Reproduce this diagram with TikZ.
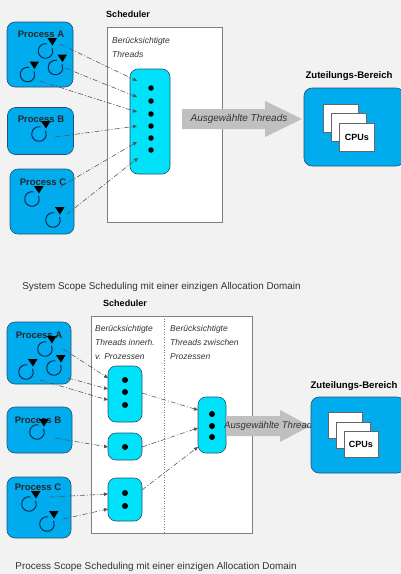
\documentclass[tikz,border=0pt]{standalone}
\usepackage{fontspec}
\setmainfont{Liberation Sans}
\usetikzlibrary{arrows.meta}
\definecolor{bg}{RGB}{242,242,242}
\definecolor{procblue}{RGB}{0,172,238}
\definecolor{qcyan}{RGB}{0,226,250}
\definecolor{edgeblue}{RGB}{40,80,110}
\definecolor{arrgray}{RGB}{192,192,192}
\definecolor{connc}{RGB}{80,80,80}
\definecolor{thrc}{RGB}{20,40,80}
\begin{document}
\begin{tikzpicture}[x=1pt,y=-1pt,
  procbox/.style={draw=edgeblue, line width=0.6pt, fill=procblue, rounded corners=8pt, inner sep=0pt},
  qbox/.style={draw=edgeblue, line width=0.6pt, fill=qcyan, rounded corners=8pt, inner sep=0pt},
  schedbox/.style={draw=gray, line width=0.6pt, fill=white, inner sep=0pt},
  cpubox/.style={draw=gray!80!black, line width=0.5pt, fill=white, inner sep=0pt, minimum width=35pt, minimum height=28pt, font=\bfseries\fontsize{9}{10}\selectfont},
  btitle/.style={font=\bfseries\fontsize{9}{10}\selectfont, inner sep=0pt},
  ztitle/.style={font=\bfseries\fontsize{9.6}{11}\selectfont, inner sep=0pt},
  ptitle/.style={font=\bfseries\fontsize{9.5}{11}\selectfont, text=black!85, inner sep=0pt},
  itext/.style={font=\itshape\fontsize{8.5}{14}\selectfont, align=left, anchor=north west, inner sep=0pt, text=black!80},
  seltext/.style={font=\itshape\fontsize{10}{12}\selectfont, text=black!80, inner sep=0pt},
  conn/.style={connc, line width=0.55pt, dash pattern=on 5pt off 2pt on 1pt off 2pt, -{Triangle[length=4pt,width=3.5pt]}},
  tdot/.style={circle, fill=black, inner sep=0pt, minimum size=5.5pt},
  caption/.style={font=\fontsize{9.9}{11}\selectfont, text=black!80, inner sep=0pt},
  divider/.style={gray, line width=0.6pt, dotted},
  thr/.pic={\draw[thrc, line width=1pt] (-80:7.3) arc[start angle=-80, end angle=-385, radius=7.3];
            \fill[black] (2,-13) -- (11.5,-13) -- (7,-5.5) -- cycle;},
]
\useasboundingbox (0,0) rectangle (401,574);
\clip (0,0) rectangle (401,574);
\fill[bg] (0,0) rectangle (401,574);

% ================= TOP =================
\node[btitle] (sched1) at (128,14) {Scheduler};
\node[schedbox, minimum width=115pt, minimum height=195pt] (sbox1) at (164.5,124.5) {};
\node[itext] (bt1) at (112,37) {Berücksichtigte\\Threads};
\node[qbox, minimum width=40pt, minimum height=105pt] (q1) at (150,121.5) {};
\foreach \yy/\n in {88/1,101/2,114/3,126/4,138/5,150/6}
  \node[tdot] (d1\n) at (151,\yy) {};

\fill[arrgray] (182,109) -- (265,109) -- (265,101) -- (302,119) -- (265,137) -- (265,129) -- (182,129) -- cycle;
\node[seltext] (sel1) at (239,119) {Ausgewählte Threads};

\node[ztitle] (zt1) at (349,76) {Zuteilungs-Bereich};
\node[procbox, minimum width=100pt, minimum height=78pt] (zb1) at (354,127) {};
\node[cpubox] (c11) at (340.5,118) {};
\node[cpubox] (c12) at (348.5,127.5) {};
\node[cpubox] (c13) at (357,137) {CPUs};

\node[caption] (cap1) at (161.5,287) {System Scope Scheduling mit einer einzigen Allocation Domain};

\node[procbox, minimum width=66pt, minimum height=65pt] (pA1) at (40,54.5) {};
\node[ptitle] (tA1) at (41,34) {Process A};
\pic at (45.5,51) {thr};
\pic at (55.5,67.5) {thr};
\pic at (27.5,74.5) {thr};

\node[procbox, minimum width=66pt, minimum height=47pt] (pB1) at (40.5,131) {};
\node[ptitle] (tB1) at (41,119) {Process B};
\pic at (39,134) {thr};

\node[procbox, minimum width=64pt, minimum height=65pt] (pC1) at (42,201.5) {};
\node[ptitle] (tC1) at (43,182) {Process C};
\pic at (32,199) {thr};
\pic at (53,220) {thr};

\coordinate (a1s) at (60,44);  \coordinate (a1e) at (137,81);
\coordinate (a2s) at (65,68);  \coordinate (a2e) at (137,97);
\coordinate (a3s) at (40,81);  \coordinate (a3e) at (137,112);
\coordinate (b1s) at (55,137); \coordinate (b1e) at (137,126);
\coordinate (c1s) at (60,187); \coordinate (c1e) at (137,142);
\coordinate (c2s) at (67,214); \coordinate (c2e) at (138,158);
\foreach \s/\e in {a1s/a1e,a2s/a2e,a3s/a3e,b1s/b1e,c1s/c1e,c2s/c2e}
  \draw[conn] (\s) -- (\e);

% ================= BOTTOM =================
\node[btitle] (sched2) at (125,303) {Scheduler};
\node[schedbox, minimum width=161pt, minimum height=217pt] (sbox2) at (171.5,424.5) {};
\coordinate (dvt) at (164,316); \coordinate (dvb) at (164,533);
\draw[divider] (dvt) -- (dvb);
\node[itext] (bt2) at (95,325) {Berücksichtigte\\Threads innerh.\\v. Prozessen};
\node[itext] (bt3) at (170,325) {Berücksichtigte\\Threads zwischen\\Prozessen};

\node[qbox, minimum width=34pt, minimum height=56pt] (q21) at (125,394) {};
\node[qbox, minimum width=34pt, minimum height=27pt] (q22) at (125,446.5) {};
\node[qbox, minimum width=34pt, minimum height=43pt] (q23) at (125,499.5) {};
\node[qbox, minimum width=28pt, minimum height=56pt] (q24) at (212,425) {};
\foreach \xx/\yy/\n in {125/380/1,125/392/2,125/405/3,125/447/4,125/493/5,125/506/6,212/414/7,212/426/8,212/437/9}
  \node[tdot, minimum size=6pt] (d2\n) at (\xx,\yy) {};

\fill[arrgray] (226,416) -- (280,416) -- (280,410) -- (310,426) -- (280,442) -- (280,436) -- (226,436) -- cycle;
\node[seltext, font=\itshape\fontsize{9.6}{12}\selectfont, anchor=west] (sel2) at (224,426) {Ausgewählte Threads};

\node[ztitle] (zt2) at (354,386) {Zuteilungs-Bereich};
\node[procbox, minimum width=94pt, minimum height=76pt] (zb2) at (358,435) {};
\node[cpubox, minimum width=34pt, minimum height=26pt] (c21) at (345,425.5) {};
\node[cpubox, minimum width=34pt, minimum height=26pt] (c22) at (353,435) {};
\node[cpubox, minimum width=34pt, minimum height=26pt] (c23) at (361,444.5) {CPUs};

\node[caption] (cap2) at (156,567) {Process Scope Scheduling mit einer einzigen Allocation Domain};

\node[procbox, minimum width=64pt, minimum height=62pt] (pA2) at (39,353) {};
\node[ptitle] (tA2) at (39,335) {Process A};
\pic at (45,349) {thr};
\pic at (26,372) {thr};
\pic at (54,368) {thr};

\node[procbox, minimum width=65pt, minimum height=46pt] (pB2) at (39.5,430) {};
\node[ptitle] (tB2) at (38,420) {Process B};
\pic at (37,432) {thr};

\node[procbox, minimum width=64pt, minimum height=61pt] (pC2) at (39,507.5) {};
\node[ptitle] (tC2) at (38,487) {Process C};
\pic at (29,504) {thr};
\pic at (47,524) {thr};

\coordinate (e1s) at (63,349);  \coordinate (e1e) at (108,378);
\coordinate (e2s) at (68,378);  \coordinate (e2e) at (108,389);
\coordinate (e3s) at (40,380);  \coordinate (e3e) at (108,400);
\coordinate (f1s) at (55,438);  \coordinate (f1e) at (108,447);
\coordinate (g1s) at (50,497);  \coordinate (g1e) at (108,494);
\coordinate (g2s) at (63,519);  \coordinate (g2e) at (108,509);
\coordinate (h1s) at (142,393); \coordinate (h1e) at (198,410);
\coordinate (h2s) at (142,447); \coordinate (h2e) at (198,428);
\coordinate (h3s) at (142,490); \coordinate (h3e) at (198,447);
\foreach \s/\e in {e1s/e1e,e2s/e2e,e3s/e3e,f1s/f1e,g1s/g1e,g2s/g2e,h1s/h1e,h2s/h2e,h3s/h3e}
  \draw[conn] (\s) -- (\e);
\end{tikzpicture}
\end{document}
